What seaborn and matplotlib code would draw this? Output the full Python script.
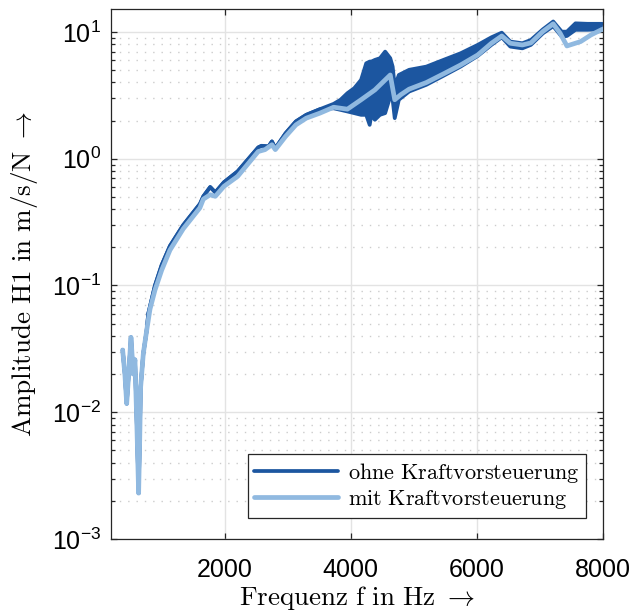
import numpy as np
import pandas as pd
import matplotlib
matplotlib.use("Agg")
import matplotlib.pyplot as plt
import seaborn as sns
from matplotlib.lines import Line2D
from matplotlib.ticker import LogLocator, NullFormatter

# ---------------- data ----------------
light_f = [385, 420, 449, 480, 517, 553, 580, 610, 638, 655, 670, 712, 765, 818, 897,
           1003, 1134, 1345, 1609, 1663, 1772, 1853, 1989, 2207, 2533, 2641, 2750, 2804,
           2967, 3130, 3294, 3511, 3728, 3946, 4163, 4381, 4625, 4696, 4788, 4924, 5196,
           5467, 5739, 6011, 6228, 6392, 6527, 6718, 6853, 7044, 7207, 7315, 7424, 7641,
           7804, 7984]
light_amp = [0.031, 0.020, 0.0117, 0.020, 0.039, 0.020, 0.026, 0.008, 0.0023, 0.006,
             0.0158, 0.029, 0.044, 0.065, 0.092, 0.132, 0.19, 0.28, 0.41, 0.48, 0.52,
             0.505, 0.605, 0.726, 1.14, 1.18, 1.29, 1.18, 1.5, 1.85, 2.09, 2.29, 2.55,
             2.46, 2.92, 3.49, 4.58, 2.92, 3.19, 3.54, 3.99, 4.67, 5.49, 6.59, 8.15, 9.3,
             8.15, 7.9, 8.2, 10.1, 11.6, 9.8, 7.76, 8.4, 9.47, 10.5]

dark_f = [385, 420, 449, 480, 517, 553, 580, 610, 638, 655, 670, 712, 765, 791, 897,
          1003, 1134, 1345, 1609, 1663, 1772, 1853, 1989, 2207, 2533, 2587, 2696, 2750,
          2804, 2967, 3130, 3294, 3511, 3728, 3837, 3946, 4054, 4163, 4244, 4299, 4326,
          4381, 4462, 4544, 4625, 4663, 4696, 4761, 4924, 5196, 5467, 5739, 6011, 6228,
          6392, 6527, 6718, 6853, 7044, 7207, 7342, 7424, 7560, 7750, 7984]
dark_hi = [0.031, 0.020, 0.0117, 0.020, 0.039, 0.020, 0.026, 0.008, 0.0023, 0.006,
           0.0158, 0.029, 0.044, 0.060, 0.100, 0.145, 0.205, 0.30, 0.44, 0.505, 0.598,
           0.543, 0.652, 0.795, 1.228, 1.265, 1.25, 1.37, 1.21, 1.59, 1.97, 2.22, 2.46,
           2.71, 2.92, 3.29, 3.60, 4.19, 5.66, 5.84, 5.84, 6.02, 6.21, 7.0, 6.21, 5.33,
           3.72, 4.58, 5.03, 5.33, 6.02, 6.79, 7.91, 9.08, 9.88, 8.40, 8.15, 8.65, 10.5,
           12.1, 10.06, 10.06, 11.7, 11.6, 11.6]
dark_lo = [0.031, 0.020, 0.0117, 0.020, 0.039, 0.020, 0.026, 0.008, 0.0023, 0.006,
           0.0158, 0.029, 0.044, 0.060, 0.100, 0.145, 0.205, 0.30, 0.44, 0.505, 0.598,
           0.543, 0.652, 0.795, 1.228, 1.265, 1.25, 1.37, 1.21, 1.59, 1.97, 2.22, 2.46,
           2.50, 2.43, 2.36, 2.29, 2.22, 2.22, 1.85, 2.22, 2.03, 2.22, 2.29, 3.10, 2.92,
           2.09, 2.92, 3.39, 3.83, 4.51, 5.33, 6.47, 7.91, 9.08, 7.67, 7.43, 7.91, 9.76,
           11.1, 9.19, 9.30, 10.4, 10.4, 10.5]

labels = ["ohne Kraftvorsteuerung", "mit Kraftvorsteuerung"]
xticks = [2000, 4000, 6000, 8000]

dark_col = "#1c56a0"
light_col = "#90b9e0"

# ---------------- style ----------------
sns.set_style("white")
plt.rcParams["font.family"] = ["Liberation Sans", "DejaVu Sans"]
plt.rcParams["mathtext.fontset"] = "cm"
plt.rcParams["text.color"] = "black"
plt.rcParams["axes.labelcolor"] = "black"
plt.rcParams["xtick.color"] = "black"
plt.rcParams["ytick.color"] = "black"

fig = plt.figure(figsize=(6.43, 6.12), dpi=100)
ax = fig.add_axes([0.1726, 0.1193, 0.7656, 0.8655])

dark_df = pd.DataFrame({"f": dark_f, "lo": dark_lo, "hi": dark_hi})
light_df = pd.DataFrame({"f": light_f, "amp": light_amp})

ax.fill_between(dark_df["f"], dark_df["lo"], dark_df["hi"], color=dark_col, lw=0, zorder=2)
sns.lineplot(data=dark_df, x="f", y="hi", ax=ax, color=dark_col, lw=2.7, zorder=2)
sns.lineplot(data=dark_df, x="f", y="lo", ax=ax, color=dark_col, lw=2.7, zorder=2)
sns.lineplot(data=light_df, x="f", y="amp", ax=ax, color=light_col, lw=3.4, zorder=3)

ax.set_yscale("log")
ax.set_xlim(200, 8000)
ax.set_ylim(1e-3, 15.1)
ax.set_xticks(xticks)
ax.set_xticklabels([str(v) for v in xticks])
ax.yaxis.set_major_locator(LogLocator(base=10, numticks=10))
ax.yaxis.set_minor_locator(LogLocator(base=10, subs=np.arange(2, 10), numticks=20))
ax.yaxis.set_minor_formatter(NullFormatter())

ax.grid(True, which="major", axis="both", color="#e3e3e3", lw=1.0, zorder=0)
ax.grid(True, which="minor", axis="y", color="#cccccc", lw=1.0, ls=(0, (1, 5)), zorder=0)
ax.set_axisbelow(True)

for s in ax.spines.values():
    s.set_color("#262626")
    s.set_linewidth(0.9)
    s.set_visible(True)

ax.tick_params(which="major", direction="in", length=4.5, width=0.9, color="#262626",
               top=True, right=True, bottom=True, left=True, labelsize=18, labelcolor="black")
ax.tick_params(which="minor", direction="in", length=2.8, width=0.9, color="#262626",
               left=True, right=True)
ax.tick_params(axis="y", which="major", pad=7)
ax.tick_params(axis="x", which="major", pad=14)

ax.set_xlabel(r"$\mathrm{Frequenz\ f\ in\ Hz}\ \rightarrow$", fontsize=19.5)
ax.set_ylabel(r"$\mathrm{Amplitude\ H1\ in\ m/s/N}\ \rightarrow$", fontsize=19.5)
ax.xaxis.set_label_coords(0.5, -0.085)
ax.yaxis.set_label_coords(-0.145, 0.5)

handles = [Line2D([], [], color=dark_col, lw=2.7), Line2D([], [], color=light_col, lw=3.4)]
leg = ax.legend(handles, [r"$\mathrm{ohne\ Kraftvorsteuerung}$", r"$\mathrm{mit\ Kraftvorsteuerung}$"],
                loc="lower right", bbox_to_anchor=(0.965, 0.04), fontsize=16,
                frameon=True, fancybox=False, framealpha=1, edgecolor="#262626",
                handlelength=3.75, handletextpad=0.45, borderpad=0.3, labelspacing=0.15,
                borderaxespad=0)
leg.get_frame().set_linewidth(0.9)

fig.savefig("out.png", dpi=100)
